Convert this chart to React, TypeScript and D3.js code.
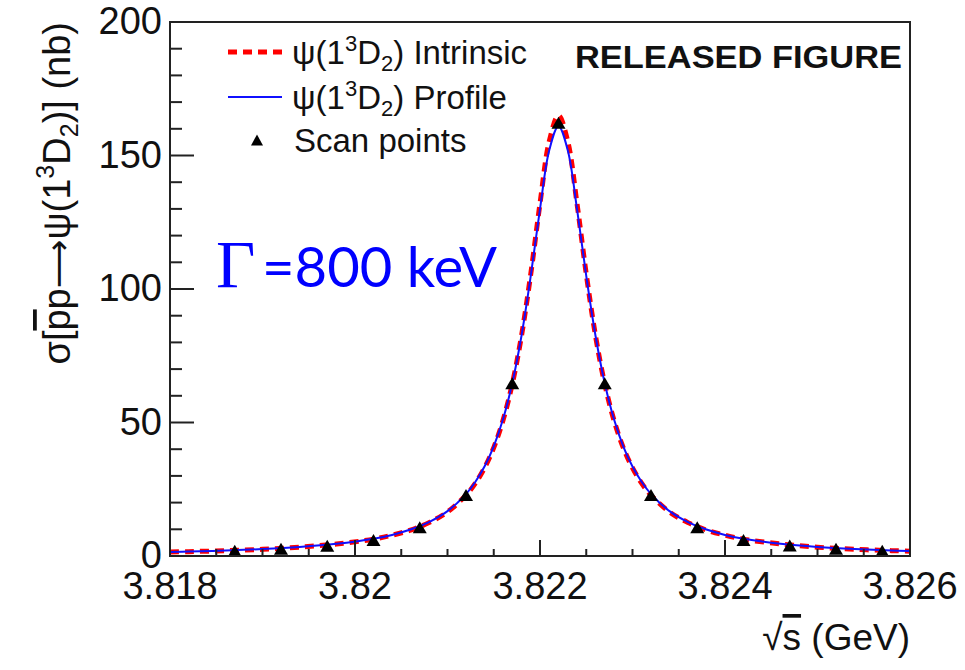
import React from "react";
import * as d3 from "d3";

// ---- data ----
const curveX = [
  3.8180, 3.8182, 3.8186, 3.8190, 3.8194, 3.8198, 3.8202, 3.8204, 3.8206, 3.8208,
  3.8210, 3.8212, 3.8213, 3.8214, 3.8215, 3.8216, 3.8217, 3.8218, 3.8219, 3.8220,
  3.8221, 3.8222, 3.8223, 3.8224, 3.8225, 3.8226, 3.8227, 3.8228, 3.8229, 3.8230,
  3.8231, 3.8232, 3.8234, 3.8236, 3.8238, 3.8240, 3.8242, 3.8246, 3.8250, 3.8254,
  3.8258, 3.8260,
];
const intrinsicY = [
  1.48, 1.63, 2.0, 2.5, 3.3, 4.5, 6.3, 7.8, 9.7, 12.5,
  16.5, 22.8, 27.2, 33.0, 40.6, 50.8, 64.4, 82.5, 105.6, 132.0,
  155.3, 165.0, 155.3, 132.0, 105.6, 82.5, 64.4, 50.8, 40.6, 33.0,
  27.2, 22.8, 16.5, 12.5, 9.7, 7.8, 6.3, 4.5, 3.3, 2.5,
  2.0, 1.81,
];
const profileY = [
  1.52, 1.67, 2.06, 2.6, 3.4, 4.6, 6.5, 7.9, 9.9, 12.7,
  16.8, 23.2, 27.7, 33.5, 41.1, 51.2, 64.7, 82.5, 104.9, 130.0,
  152.0, 161.0, 152.0, 130.0, 104.9, 82.5, 64.7, 51.2, 41.1, 33.5,
  27.7, 23.2, 16.8, 12.7, 9.9, 7.9, 6.5, 4.6, 3.4, 2.6,
  2.06, 1.85,
];
const scanX = [
  3.8187, 3.8192, 3.8197, 3.8202, 3.8207, 3.8212, 3.8217, 3.8222,
  3.8227, 3.8232, 3.8237, 3.8242, 3.8247, 3.8252, 3.8257,
];
const scanY = [
  2.0, 2.7, 3.8, 6.0, 10.8, 22.8, 64.7, 162.3,
  64.7, 22.8, 10.8, 6.0, 3.9, 2.7, 2.0,
];
const xTickValues = [3.818, 3.82, 3.822, 3.824, 3.826];
const xTickLabels = ["3.818", "3.82", "3.822", "3.824", "3.826"];
const yTickValues = [0, 50, 100, 150, 200];
const yTickLabels = ["0", "50", "100", "150", "200"];
const legendLabels = ["Intrinsic", "Profile", "Scan points"];

const W = 965;
const H = 670;
const frame = { left: 170, right: 910, top: 22, bottom: 556 };
const FONT = "'Liberation Sans', Arial, Helvetica, sans-serif";

export default function App() {
  const x = d3.scaleLinear().domain([3.818, 3.826]).range([frame.left, frame.right]);
  const y = d3.scaleLinear().domain([0, 200]).range([frame.bottom, frame.top]);

  const line = (ys: number[]) =>
    d3
      .line<number>()
      .x((_, i) => x(curveX[i]))
      .y((v) => y(v))
      .curve(d3.curveCatmullRom.alpha(0.5))(ys) as string;

  const xMinor = d3.range(0, 17).map((i) => 3.818 + i * 0.0005);
  const yMinor = d3.range(0, 21).map((i) => i * 10);

  const tri = (cx: number, cy: number, w = 14, h = 12) =>
    `M${cx - w / 2},${cy + h / 2}L${cx + w / 2},${cy + h / 2}L${cx},${cy - h / 2}Z`;

  return (
    <svg
      width={W}
      height={H}
      viewBox={`0 0 ${W} ${H}`}
      style={{ position: "absolute", left: 0, top: 0, background: "#fff" }}
      fontFamily={FONT}
    >
      <rect x={0} y={0} width={W} height={H} fill="#fff" />
      <defs>
        <clipPath id="plotclip">
          <rect x={frame.left} y={frame.top} width={frame.right - frame.left} height={frame.bottom - frame.top} />
        </clipPath>
      </defs>

      {/* curves */}
      <g clipPath="url(#plotclip)">
        <path d={line(intrinsicY)} fill="none" stroke="#ff0000" strokeWidth={5} strokeDasharray="9,6" />
        <path d={line(profileY)} fill="none" stroke="#1010ff" strokeWidth={2} />
      </g>

      {/* scan points */}
      {scanX.map((sx, i) => (
        <path key={i} d={tri(x(sx), y(scanY[i]))} fill="#000" />
      ))}

      {/* frame */}
      <rect
        x={frame.left}
        y={frame.top}
        width={frame.right - frame.left}
        height={frame.bottom - frame.top}
        fill="none"
        stroke="#222"
        strokeWidth={2}
      />

      {/* x ticks */}
      {xMinor.map((v, i) => {
        const major = i % 4 === 0;
        return (
          <line
            key={"xm" + i}
            x1={x(v)}
            x2={x(v)}
            y1={frame.bottom}
            y2={frame.bottom - (major ? 16 : 7)}
            stroke="#222"
            strokeWidth={2}
          />
        );
      })}
      {xTickValues.map((v, i) => (
        <text key={"xl" + i} x={x(v)} y={599} textAnchor="middle" fontSize={38} fill="#111">
          {xTickLabels[i]}
        </text>
      ))}

      {/* y ticks */}
      {yMinor.map((v, i) => {
        const major = i % 5 === 0;
        return (
          <line
            key={"ym" + i}
            x1={frame.left}
            x2={frame.left + (major ? 24 : 12)}
            y1={y(v)}
            y2={y(v)}
            stroke="#222"
            strokeWidth={2}
          />
        );
      })}
      {yTickValues.map((v, i) => (
        <text key={"yl" + i} x={162} y={y(v) + 12} textAnchor="end" fontSize={38} fill="#111">
          {yTickLabels[i]}
        </text>
      ))}

      {/* y axis title */}
      <text
        transform={`translate(70,22) rotate(-90)`}
        textAnchor="end"
        fontSize={38}
        fill="#111"
      >
        <tspan>σ[</tspan>
        <tspan style={{ textDecoration: "overline" }}>p</tspan>
        <tspan>p</tspan>
        <tspan fontFamily="'DejaVu Sans', sans-serif" fontSize={34}>⟶</tspan>
        <tspan>ψ(1</tspan>
        <tspan fontSize={25} dy={-16}>3</tspan>
        <tspan dy={16}>D</tspan>
        <tspan fontSize={25} dy={8}>2</tspan>
        <tspan dy={-8}>)] (nb)</tspan>
      </text>

      {/* x axis title */}
      <text x={910} y={650} textAnchor="end" fontSize={37} fill="#111">
        <tspan>√</tspan>
        <tspan style={{ textDecoration: "overline" }}>s</tspan>
        <tspan> (GeV)</tspan>
      </text>

      {/* legend */}
      <line x1={228} x2={282} y1={52} y2={52} stroke="#ff0000" strokeWidth={5} strokeDasharray="9,6" />
      <line x1={228} x2={282} y1={97} y2={97} stroke="#1010ff" strokeWidth={2} />
      <path d={tri(257, 140, 12, 11)} fill="#000" />
      {[0, 1].map((k) => (
        <text key={"lg" + k} x={292} y={64 + k * 45} fontSize={33} fill="#111">
          <tspan>ψ(1</tspan>
          <tspan fontSize={22} dy={-13}>3</tspan>
          <tspan dy={13}>D</tspan>
          <tspan fontSize={22} dy={7}>2</tspan>
          <tspan dy={-7}>) {legendLabels[k]}</tspan>
        </text>
      ))}
      <text x={294} y={152} fontSize={33} fill="#111">
        {legendLabels[2]}
      </text>

      {/* released figure */}
      <text x={575} y={68} fontSize={31} fontWeight="bold" fill="#111" textLength={327} lengthAdjust="spacingAndGlyphs">
        RELEASED FIGURE
      </text>

      {/* width annotation */}
      <text x={216} y={287} fontSize={68} fill="#0000ff" fontFamily="'Liberation Serif', 'DejaVu Serif', serif">
        Γ
      </text>
      <text x={262} y={287} fontSize={56} fill="#0000ff" fontFamily="Lato, 'Open Sans', sans-serif" textLength={235} lengthAdjust="spacingAndGlyphs">
        =800 keV
      </text>
    </svg>
  );
}
